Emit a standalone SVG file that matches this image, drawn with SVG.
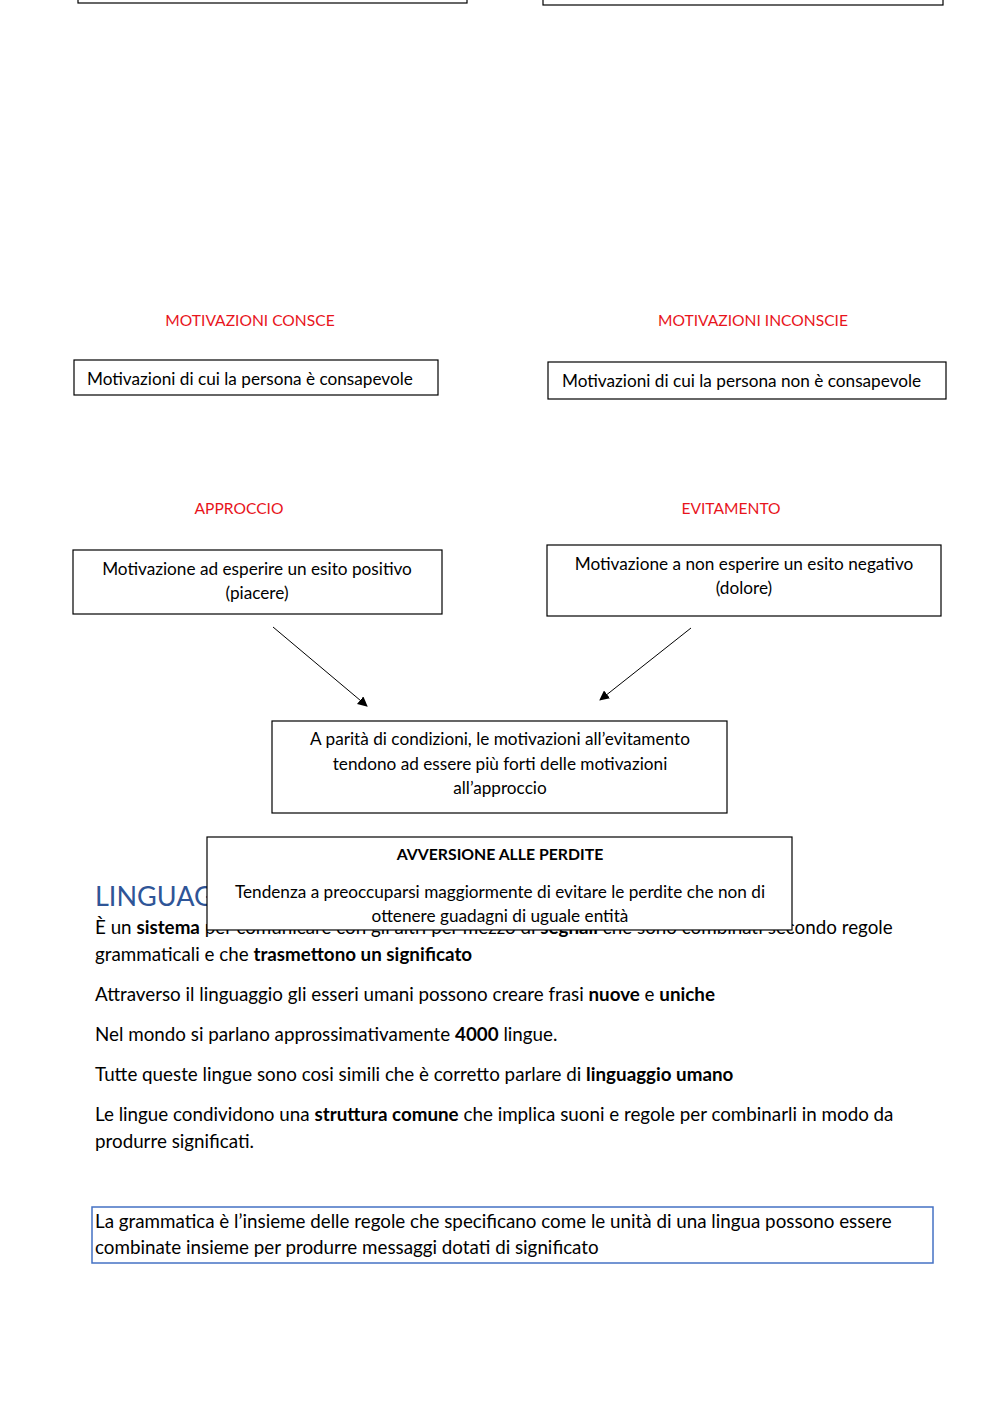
<svg xmlns="http://www.w3.org/2000/svg" width="1000" height="1414" viewBox="0 0 1000 1414">
<style>
.box{fill:#fff;stroke:#000;stroke-width:1.2}
.t{font-family:Lato,"Carlito","Liberation Sans",sans-serif;font-size:17.2px;fill:#000}
.c{text-anchor:middle}
.red{font-family:Lato,"Carlito","Liberation Sans",sans-serif;font-size:15.6px;fill:#e8141c;text-anchor:middle}
.body{font-family:Lato,"Carlito","Liberation Sans",sans-serif;font-size:18.8px;fill:#000}
.b{font-weight:bold}
.edge{stroke:#000;stroke-width:1;fill:none;marker-end:url(#ah)}
</style>
<defs>
<marker id="ah" viewBox="0 0 10 10" refX="9" refY="5" markerWidth="10" markerHeight="10" markerUnits="userSpaceOnUse" orient="auto">
<path d="M0,0 L10,5 L0,10 z" fill="#000"/>
</marker>
</defs>
<rect width="1000" height="1414" fill="#fff"/>
<g id="top-left"><rect class="box" x="78" y="-10" width="389" height="13"/></g>
<g id="top-right"><rect class="box" x="543" y="-10" width="400" height="15"/></g>

<g id="label-consce"><text class="red" x="250" y="326">MOTIVAZIONI CONSCE</text></g>
<g id="label-inconscie"><text class="red" x="753" y="326">MOTIVAZIONI INCONSCIE</text></g>
<g id="consce"><rect class="box" x="74" y="360" width="364" height="35"/><text class="t" x="87" y="385">Motivazioni di cui la persona è consapevole</text></g>
<g id="inconscie"><rect class="box" x="548" y="362" width="398" height="37"/><text class="t" x="562" y="387">Motivazioni di cui la persona non è consapevole</text></g>

<g id="label-approccio"><text class="red" x="239" y="514">APPROCCIO</text></g>
<g id="label-evitamento"><text class="red" x="731" y="514">EVITAMENTO</text></g>
<g id="approccio"><rect class="box" x="73" y="550" width="369" height="64"/><text class="t c" x="257" y="575">Motivazione ad esperire un esito positivo</text><text class="t c" x="257" y="599">(piacere)</text></g>
<g id="evitamento"><rect class="box" x="547" y="545" width="394" height="71"/><text class="t c" x="744" y="570">Motivazione a non esperire un esito negativo</text><text class="t c" x="744" y="594">(dolore)</text></g>

<g id="connectors">
<line class="edge" x1="273" y1="627" x2="367" y2="706"/>
<line class="edge" x1="691" y1="628" x2="600" y2="700"/>
</g>

<g id="parita"><rect class="box" x="272" y="721" width="455" height="92"/>
<text class="t c" x="500" y="745">A parità di condizioni, le motivazioni all’evitamento</text>
<text class="t c" x="500" y="770">tendono ad essere più forti delle motivazioni</text>
<text class="t c" x="500" y="794">all’approccio</text></g>

<g id="linguaggio">
<text x="95" y="906" style="font-family:Lato,'Carlito','Liberation Sans',sans-serif;font-size:27px;fill:#2f5597">LINGUAGGIO</text>
<text class="body" x="95" y="934">È un <tspan class="b">sistema</tspan> per comunicare con gli altri per mezzo di <tspan class="b">segnali</tspan> che sono combinati secondo regole</text>
<text class="body" x="95" y="961">grammaticali e che <tspan class="b">trasmettono un significato</tspan></text>
<text class="body" x="95" y="1001">Attraverso il linguaggio gli esseri umani possono creare frasi <tspan class="b">nuove</tspan> e <tspan class="b">uniche</tspan></text>
<text class="body" x="95" y="1041">Nel mondo si parlano approssimativamente <tspan class="b">4000</tspan> lingue.</text>
<text class="body" x="95" y="1081">Tutte queste lingue sono cosi simili che è corretto parlare di <tspan class="b">linguaggio umano</tspan></text>
<text class="body" x="95" y="1121">Le lingue condividono una <tspan class="b">struttura comune</tspan> che implica suoni e regole per combinarli in modo da</text>
<text class="body" x="95" y="1148">produrre significati.</text>
</g>

<g id="avversione"><rect class="box" x="207" y="837" width="585" height="93"/>
<text class="t c b" x="500" y="860" style="font-size:15.8px">AVVERSIONE ALLE PERDITE</text>
<text class="t c" x="500" y="898">Tendenza a preoccuparsi maggiormente di evitare le perdite che non di</text>
<text class="t c" x="500" y="922">ottenere guadagni di uguale entità</text></g>

<g id="grammatica"><rect x="92" y="1207" width="841" height="56" fill="#fff" stroke="#4472c4" stroke-width="1.5"/>
<text class="body" x="95" y="1228">La grammatica è l’insieme delle regole che specificano come le unità di una lingua possono essere</text>
<text class="body" x="95" y="1254">combinate insieme per produrre messaggi dotati di significato</text></g>
</svg>
